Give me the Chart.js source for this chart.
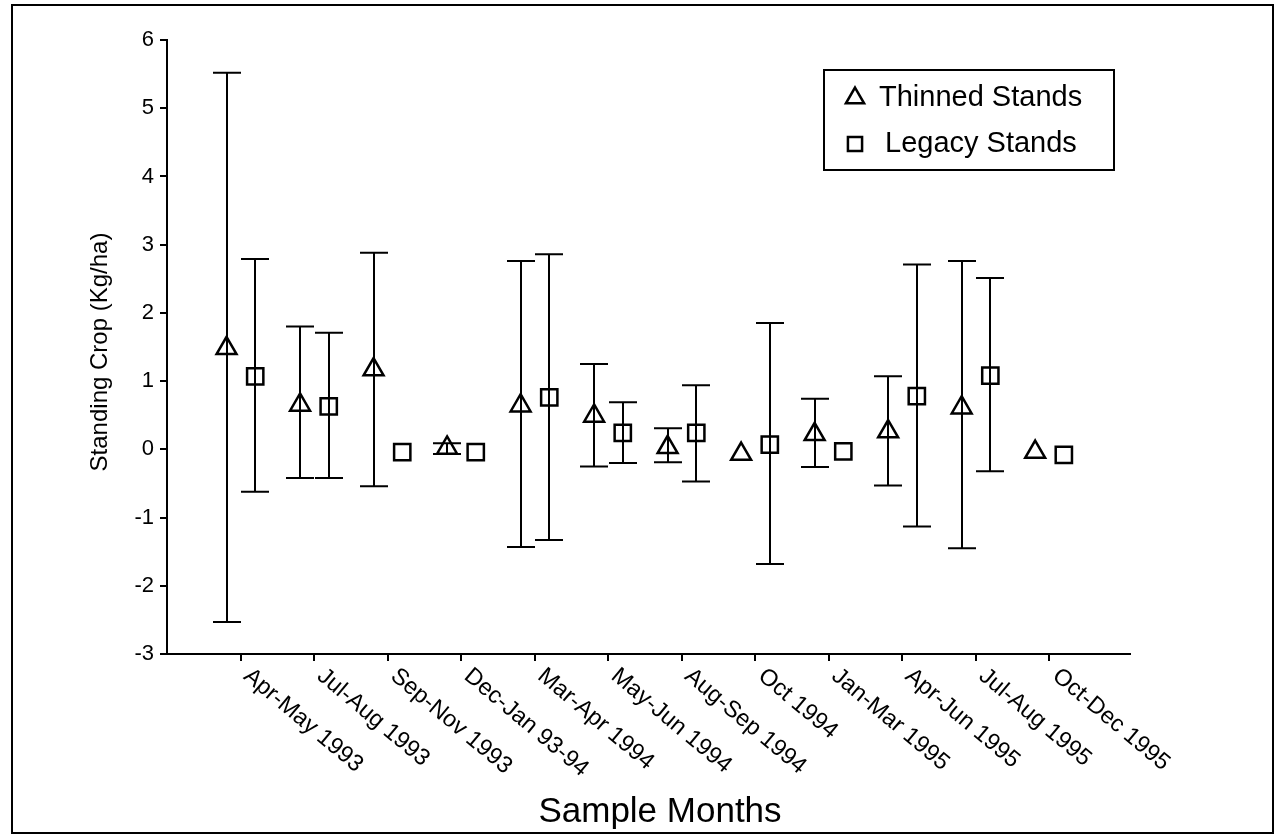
<!DOCTYPE html>
<html>
<head>
<meta charset="utf-8">
<script src="https://cdn.jsdelivr.net/npm/chart.js@4/dist/chart.umd.min.js"></script>
<style>
  html, body { margin: 0; padding: 0; background: #fff; }
  #wrap { position: relative; width: 1275px; height: 840px; }
  #frame { position: absolute; left: 11px; top: 4px; width: 1259px; height: 826px; border: 2px solid #000; pointer-events: none; }
  canvas { position: absolute; left: 0; top: 0; }
</style>
</head>
<body>
<div id="wrap">
  <canvas id="chart" width="1275" height="840"></canvas>
  <div id="frame"></div>
</div>
<script>
const categories = ['Apr-May 1993', 'Jul-Aug 1993', 'Sep-Nov 1993', 'Dec-Jan 93-94', 'Mar-Apr 1994', 'May-Jun 1994',
                    'Aug-Sep 1994', 'Oct 1994', 'Jan-Mar 1995', 'Apr-Jun 1995', 'Jul-Aug 1995', 'Oct-Dec 1995'];

const thinnedMean = [1.48, 0.65, 1.17, 0.02, 0.64, 0.49, 0.03, -0.07, 0.22, 0.26, 0.61, -0.04];
const thinnedLow  = [-2.53, -0.42, -0.54, -0.07, -1.43, -0.25, -0.19, null, -0.26, -0.53, -1.45, null];
const thinnedHigh = [5.52, 1.8, 2.88, 0.09, 2.76, 1.25, 0.31, null, 0.74, 1.07, 2.76, null];

const legacyMean = [1.07, 0.63, -0.04, -0.04, 0.76, 0.24, 0.24, 0.07, -0.03, 0.78, 1.08, -0.08];
const legacyLow  = [-0.62, -0.42, null, null, -1.33, -0.2, -0.47, -1.68, null, -1.13, -0.32, null];
const legacyHigh = [2.79, 1.71, null, null, 2.86, 0.69, 0.94, 1.85, null, 2.71, 2.51, null];

const yTicks = [-3, -2, -1, 0, 1, 2, 3, 4, 5, 6];

const FONT = "'Liberation Sans', Arial, sans-serif";
const THIN_OFF = -0.19, LEG_OFF = 0.2;
const LABEL_ANGLE = 40 * Math.PI / 180;

const toPoints = (vals, off) => vals.map((y, i) => ({ x: i + 1 + off, y }));

// error bars with caps, drawn under the hollow markers
const errorBars = {
  id: 'errorBars',
  beforeDatasetsDraw(chart) {
    const { ctx, scales: { y } } = chart;
    const ranges = [[thinnedLow, thinnedHigh], [legacyLow, legacyHigh]];
    ctx.save();
    ctx.strokeStyle = '#000';
    ctx.lineWidth = 2;
    ranges.forEach(([lo, hi], d) => {
      chart.getDatasetMeta(d).data.forEach((pt, i) => {
        if (lo[i] == null) return;
        const x = Math.round(pt.x), y1 = y.getPixelForValue(lo[i]), y2 = y.getPixelForValue(hi[i]);
        ctx.beginPath();
        ctx.moveTo(x, y1); ctx.lineTo(x, y2);
        ctx.moveTo(x - 14, y1); ctx.lineTo(x + 14, y1);
        ctx.moveTo(x - 14, y2); ctx.lineTo(x + 14, y2);
        ctx.stroke();
      });
    });
    ctx.restore();
  }
};

// slanted category labels, titles and the boxed legend
const decorations = {
  id: 'decorations',
  afterDraw(chart) {
    const { ctx, scales: { x }, chartArea } = chart;
    ctx.save();
    ctx.fillStyle = '#000';

    ctx.font = `23.5px ${FONT}`;
    ctx.textAlign = 'left';
    ctx.textBaseline = 'alphabetic';
    x.ticks.forEach((t, i) => {
      const px = x.getPixelForValue(t.value);
      ctx.save();
      ctx.translate(px + 2, chartArea.bottom + 24);
      ctx.rotate(LABEL_ANGLE);
      ctx.fillText(categories[i], 0, 0);
      ctx.restore();
    });

    ctx.textAlign = 'center';
    ctx.textBaseline = 'middle';
    ctx.font = `35px ${FONT}`;
    ctx.fillText('Sample Months', 660, 812);

    ctx.save();
    ctx.translate(100, 352);
    ctx.rotate(-Math.PI / 2);
    ctx.font = `24px ${FONT}`;
    ctx.fillText('Standing Crop (Kg/ha)', 0, 0);
    ctx.restore();

    // legend
    ctx.lineWidth = 2;
    ctx.strokeStyle = '#000';
    ctx.strokeRect(824, 70, 290, 100);
    ctx.textAlign = 'left';
    ctx.font = `29px ${FONT}`;
    chart.data.datasets.forEach((ds, d) => {
      const cy = d === 0 ? 98 : 144;
      ctx.save();
      ctx.fillStyle = 'rgba(0,0,0,0)';
      ctx.lineWidth = 2.5;
      Chart.helpers.drawPoint(ctx, { pointStyle: ds.pointStyle, radius: d === 0 ? 10.5 : 10, borderWidth: 2.5 }, 855, cy);
      ctx.restore();
      ctx.fillText(ds.label, d === 0 ? 879 : 885, cy);
    });
    ctx.restore();
  }
};

const marker = (style, r) => ({
  pointStyle: style, pointRadius: r, pointHoverRadius: r,
  borderColor: '#000', backgroundColor: 'rgba(0,0,0,0)', pointBorderWidth: 2.5, showLine: false
});

new Chart(document.getElementById('chart').getContext('2d'), {
  type: 'scatter',
  data: {
    datasets: [
      { label: 'Thinned Stands', data: toPoints(thinnedMean, THIN_OFF), ...marker('triangle', 11.5) },
      { label: 'Legacy Stands', data: toPoints(legacyMean, LEG_OFF), ...marker('rect', 11.5) },
    ]
  },
  options: {
    responsive: false,
    animation: false,
    layout: { padding: { left: 0, top: 40, right: 145, bottom: 0 } },
    plugins: { legend: { display: false }, tooltip: { enabled: false } },
    scales: {
      x: {
        type: 'linear', min: 0, max: 13.1,
        afterBuildTicks: s => { s.ticks = categories.map((_, i) => ({ value: i + 1 })); },
        afterFit: s => { s.height = 186; },
        ticks: { display: false },
        grid: { drawOnChartArea: false, drawTicks: true, tickLength: 7, color: '#000', lineWidth: 2 },
        border: { display: true, color: '#000', width: 2 }
      },
      y: {
        min: -3, max: 6,
        afterBuildTicks: s => { s.ticks = yTicks.map(v => ({ value: v })); },
        afterFit: s => { s.width = 167; },
        ticks: { color: '#000', padding: 6, font: { family: FONT, size: 22 } },
        grid: { drawOnChartArea: false, drawTicks: true, tickLength: 7, color: '#000', lineWidth: 2 },
        border: { display: true, color: '#000', width: 2 }
      }
    }
  },
  plugins: [errorBars, decorations]
});
</script>
</body>
</html>
